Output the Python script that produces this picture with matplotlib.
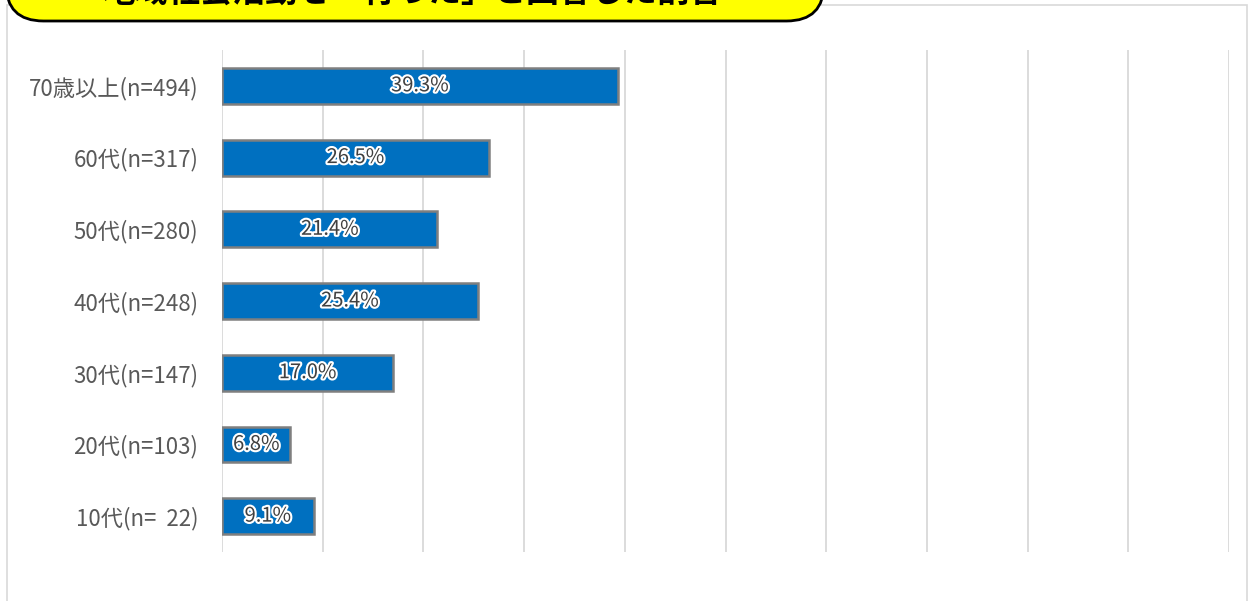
import matplotlib.pyplot as plt
import matplotlib.patheffects as pe
from matplotlib.patches import FancyBboxPatch, Rectangle

plt.rcParams['font.family'] = ['Noto Sans CJK JP', 'DejaVu Sans']

categories = ['70歳以上(n=494)', '60代(n=317)', '50代(n=280)', '40代(n=248)',
              '30代(n=147)', '20代(n=103)', '10代(n=  22)']
values = [39.3, 26.5, 21.4, 25.4, 17.0, 6.8, 9.1]
title = '地域社会活動を「行った」と回答した割合'

fig = plt.figure(figsize=(12.49, 6.01), dpi=100)
W, H = 1249, 601

# outer chart border
fig.patches.append(Rectangle((7 / W, -0.05), 1240 / W, (601 - 5) / H + 0.05,
                             transform=fig.transFigure, fill=False,
                             edgecolor='#d9d9d9', lw=1.2, zorder=0))

ax = fig.add_axes([222 / W, 1 - 552 / H, (1229 - 222) / W, (552 - 50) / H])
y = range(len(categories))
ax.barh(y, values, height=0.5, color='#0070C0', edgecolor='#7f7f7f', lw=1.8)
ax.set_xlim(0, 100)
ax.set_ylim(len(categories) - 0.5, -0.5)
ax.set_xticks(range(0, 101, 10))
ax.xaxis.grid(True, color='#d9d9d9', lw=1.3)
ax.set_axisbelow(True)
ax.tick_params(length=0, labelbottom=False)
ax.set_yticks(list(y))
ax.set_yticklabels(categories, fontsize=16, color='#595959')
ax.tick_params(axis='y', pad=17)
for s in ax.spines.values():
    s.set_visible(False)

for i, v in enumerate(values):
    ax.text(v / 2, i, f'{v:.1f}%', ha='center', va='center', fontsize=14.5,
            color='#404040',
            path_effects=[pe.withStroke(linewidth=3, foreground='white')])

# title box (cut off at top of the image)
box = FancyBboxPatch((6 / W, 1 - 21 / H), 818 / W, 0.12,
                     boxstyle='round,pad=0,rounding_size=0.03',
                     transform=fig.transFigure, facecolor='#ffff00',
                     edgecolor='black', lw=2, zorder=5, mutation_aspect=W / H)
fig.patches.append(box)
fig.text(412 / W, 1 + 8 / H, title, ha='center', va='center', fontsize=23.5,
         fontweight='bold', color='black', zorder=6)

fig.savefig('out.png', dpi=100)
